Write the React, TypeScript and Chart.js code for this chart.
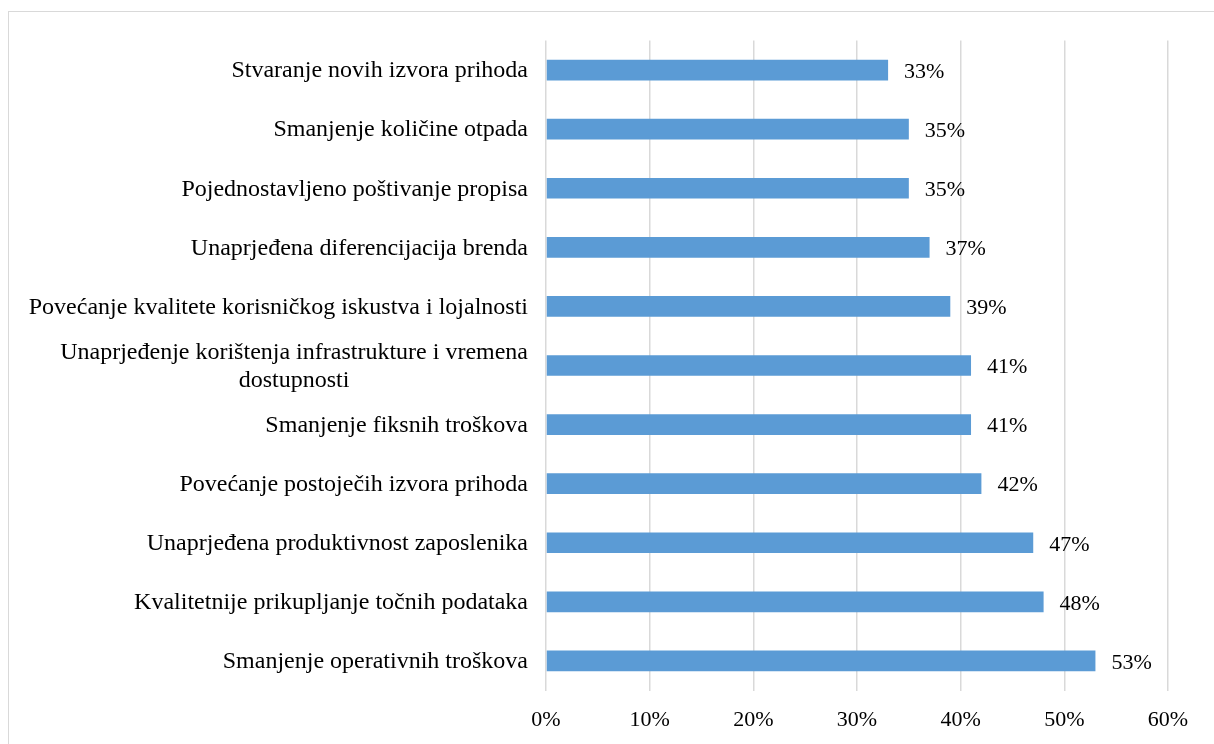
import React, { useEffect, useRef } from "react";
import { Chart, registerables } from "chart.js";

Chart.register(...registerables);

const categories: string[][] = [
  ["Stvaranje novih izvora prihoda"],
  ["Smanjenje količine otpada"],
  ["Pojednostavljeno poštivanje propisa"],
  ["Unaprjeđena diferencijacija brenda"],
  ["Povećanje kvalitete korisničkog iskustva i lojalnosti"],
  ["Unaprjeđenje korištenja infrastrukture i vremena", "dostupnosti"],
  ["Smanjenje fiksnih troškova"],
  ["Povećanje postoječih izvora prihoda"],
  ["Unaprjeđena produktivnost zaposlenika"],
  ["Kvalitetnije prikupljanje točnih podataka"],
  ["Smanjenje operativnih troškova"],
];
const values: number[] = [33, 35, 35, 37, 39, 41, 41, 42, 47, 48, 53];
const xTicks: number[] = [0, 10, 20, 30, 40, 50, 60];

const FONT = "'Liberation Serif', 'Times New Roman', serif";

const labelPlugin = {
  id: "customLabels",
  afterDatasetsDraw(chart: any) {
    const ctx = chart.ctx;
    const yScale = chart.scales.y;
    const xScale = chart.scales.x;
    ctx.save();
    ctx.fillStyle = "#000";
    ctx.textBaseline = "middle";
    // category labels: block right-aligned, lines centered
    ctx.font = `24px ${FONT}`;
    categories.forEach((lines, i) => {
      const yc = yScale.getPixelForValue(i) + 1;
      const widths = lines.map((l) => ctx.measureText(l).width);
      const maxW = Math.max(...widths);
      const right = chart.chartArea.left - 18;
      const cx = right - maxW / 2;
      const lh = 28;
      const y0 = yc - ((lines.length - 1) * lh) / 2;
      ctx.textAlign = "center";
      lines.forEach((l, k) => ctx.fillText(l, cx, y0 + k * lh));
    });
    // value labels
    ctx.font = `22px ${FONT}`;
    const meta = chart.getDatasetMeta(0);
    meta.data.forEach((bar: any, i: number) => {
      ctx.textAlign = "left";
      ctx.fillText(values[i] + "%", xScale.getPixelForValue(values[i]) + 16, bar.y + 2);
    });
    ctx.restore();
  },
};

export default function App() {
  const ref = useRef<HTMLCanvasElement>(null);
  useEffect(() => {
    if (!ref.current) return;
    const chart = new Chart(ref.current, {
      type: "bar",
      data: {
        labels: categories.map((c) => c.join(" ")),
        datasets: [
          {
            data: values,
            backgroundColor: "#5B9BD5",
            borderWidth: 0,
            barPercentage: 0.35,
            categoryPercentage: 1,
          },
        ],
      },
      options: {
        indexAxis: "y",
        animation: false,
        responsive: false,
        maintainAspectRatio: false,
        layout: { padding: { top: 40.5, right: 46, left: 0, bottom: 0 } },
        plugins: { legend: { display: false }, tooltip: { enabled: false } },
        scales: {
          x: {
            min: 0,
            max: 60,
            afterBuildTicks: (scale: any) => {
              scale.ticks = xTicks.map((v) => ({ value: v }));
            },
            afterFit: (scale: any) => {
              scale.height = 53.5;
            },
            grid: { color: "#d9d9d9", lineWidth: 1.5, drawTicks: false },
            border: { display: false },
            ticks: {
              padding: 17,
              color: "#000",
              font: { family: FONT, size: 22 },
              callback: (v: any) => v + "%",
            },
          },
          y: {
            afterFit: (scale: any) => {
              scale.width = 546;
            },
            grid: { display: false },
            border: { display: false },
            ticks: { display: false },
          },
        },
      },
      plugins: [labelPlugin],
    });
    return () => chart.destroy();
  }, []);
  return (
    <div style={{ position: "absolute", left: 0, top: 0, width: 1214, height: 744, overflow: "hidden", background: "#fff" }}>
      <div
        style={{
          position: "absolute",
          left: 8,
          top: 11,
          width: 1230,
          height: 760,
          border: "1.5px solid #d9d9d9",
        }}
      />
      <canvas ref={ref} width={1214} height={744} style={{ position: "absolute", left: 0, top: 0 }} />
    </div>
  );
}
